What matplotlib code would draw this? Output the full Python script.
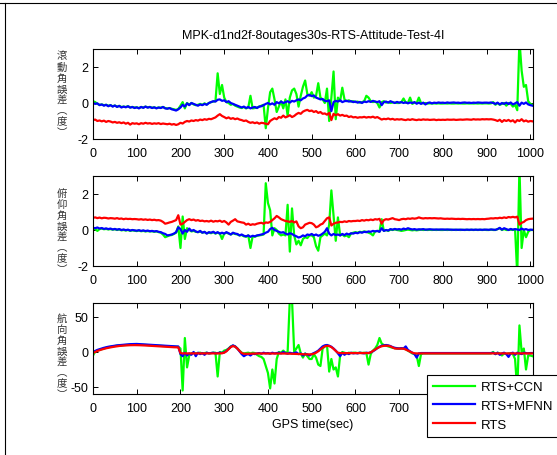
import numpy as np
import matplotlib
matplotlib.use("Agg")
import matplotlib.pyplot as plt
from matplotlib.lines import Line2D

plt.rcParams["font.family"] = ["Liberation Sans", "DejaVu Sans"]
plt.rcParams["axes.unicode_minus"] = False

# Sampling times (s), one value every 5 s
t = np.arange(0, 1006, 5)

series_names = ["RTS+CCN", "RTS+MFNN", "RTS"]
series_colors = ["#00ff00", "#0000ff", "#ff0000"]
xticks = [0, 100, 200, 300, 400, 500, 600, 700, 800, 900, 1000]
title_text = "MPK-d1nd2f-8outages30s-RTS-Attitude-Test-4I"
xlabel_text = "GPS time(sec)"
ylabels = ["滾動角誤差︵度︶", "俯仰角誤差︵度︶", "航向角誤差︵度︶"]

# ---- roll error (deg) ----
roll_ccn = [
    0.1, 0.05, -0.05, -0.1, -0.08, -0.12, -0.1, -0.15, -0.12, -0.18, -0.14, -0.2, -0.16, -0.22, -0.2, -0.22, -0.18, -0.24, -0.22, -0.25,
    -0.24, -0.28, -0.22, -0.25, -0.2, -0.24, -0.22, -0.26, -0.24, -0.28, -0.25, -0.26, -0.22, -0.28, -0.3, -0.28, -0.32, -0.35, -0.38, -0.33,
    -0.15, 0.05, -0.3, 0.0, -0.1, 0.0, -0.08, -0.12, -0.1, -0.05, -0.1, -0.02, -0.08, 0.0, 0.05, 0.08, 0.1, 1.65, 0.5, 1.0,
    0.3, 0.05, 0.0, -0.1, -0.05, -0.15, -0.2, -0.25, -0.28, -0.22, -0.3, -0.25, 0.4, -0.3, -0.28, -0.25, -0.2, -0.15, -0.1, -1.4,
    -0.3, 0.6, 0.8, 0.2, -0.5, -0.2, 0.1, -0.3, 0.2, -0.7, 0.3, 0.7, 0.8, 0.5, -0.2, 0.4, 0.9, 1.25, 0.5, 0.4,
    0.6, 0.3, 0.4, 1.1, 0.3, 0.2, 0.0, 0.8, -1.0, 0.3, 1.75, -0.9, 0.3, 0.1, 0.85, 0.2, 0.1, 0.15, 0.08, 0.1,
    0.05, 0.08, 0.02, 0.05, 0.1, 0.4, 0.3, 0.1, 0.05, 0.08, 0.0, -0.25, 0.05, 0.1, 0.02, 0.05, 0.0, 0.03, 0.02, 0.0,
    0.0, 0.05, 0.25, 0.02, 0.0, 0.3, -0.05, 0.02, 0.0, 0.3, 0.0, -0.02, 0.0, -0.03, -0.02, -0.03, -0.02, -0.03, -0.02, -0.03,
    -0.03, -0.02, -0.03, -0.02, -0.03, -0.03, -0.02, -0.03, -0.02, -0.03, -0.03, -0.02, -0.03, -0.02, -0.03, -0.02, -0.03, -0.02, -0.03, -0.02,
    -0.02, -0.03, -0.02, 0.05, -0.1, 0.0, -0.1, -0.05, 0.0, -0.15, 0.0, -0.05, -0.2, -0.1, -0.4, 3.5, 1.8, 0.9, 1.0, 0.1,
    -0.05, -0.1,
]
roll_mfnn = [
    0.0, -0.05, -0.02, -0.12, -0.08, -0.15, -0.1, -0.18, -0.12, -0.2, -0.14, -0.22, -0.16, -0.25, -0.2, -0.24, -0.18, -0.26, -0.22, -0.28,
    -0.24, -0.3, -0.22, -0.27, -0.2, -0.26, -0.22, -0.28, -0.24, -0.3, -0.25, -0.28, -0.22, -0.3, -0.32, -0.28, -0.35, -0.38, -0.42, -0.35,
    -0.25, -0.1, -0.2, -0.02, -0.12, 0.0, -0.05, -0.1, -0.15, -0.08, -0.12, -0.05, -0.1, 0.0, 0.05, 0.1, 0.08, 0.18, 0.2, 0.12,
    0.15, 0.05, 0.1, 0.0, -0.05, -0.1, -0.15, -0.2, -0.25, -0.2, -0.28, -0.22, -0.3, -0.25, -0.22, -0.28, -0.2, -0.18, -0.12, -0.05,
    0.0, -0.08, -0.02, -0.1, 0.05, -0.02, 0.08, 0.0, 0.05, 0.1, 0.02, 0.12, 0.08, 0.15, 0.2, 0.15, 0.25, 0.3, 0.42, 0.45,
    0.38, 0.42, 0.3, 0.25, 0.2, 0.22, 0.12, 0.1, 0.15, -0.45, 0.05, 0.12, 0.08, 0.15, 0.05, 0.1, 0.12, 0.08, 0.1, 0.05,
    0.08, 0.02, 0.06, 0.0, 0.08, 0.05, 0.1, 0.06, 0.12, 0.08, 0.05, 0.1, -0.12, 0.05, 0.08, 0.02, 0.1, 0.05, 0.0, 0.06,
    0.02, 0.05, 0.0, 0.04, -0.02, 0.03, 0.0, 0.05, -0.04, 0.02, -0.05, 0.02, -0.08, 0.0, 0.03, -0.02, 0.02, 0.0, 0.03, 0.01,
    0.02, 0.0, 0.03, 0.01, 0.02, 0.03, 0.01, 0.02, 0.0, 0.02, 0.03, 0.01, 0.02, 0.0, 0.02, 0.01, 0.03, 0.02, 0.01, 0.02,
    0.02, 0.01, 0.03, 0.0, -0.05, 0.02, -0.08, 0.0, -0.05, 0.02, -0.06, 0.03, -0.08, -0.02, 0.05, -0.15, 0.02, -0.05, 0.03, -0.08,
    -0.12, -0.15,
]
roll_rts = [
    -0.95, -0.92, -1.0, -0.97, -1.02, -0.98, -1.05, -1.0, -1.03, -1.08, -1.05, -1.1, -1.07, -1.12, -1.08, -1.15, -1.1, -1.2, -1.12, -1.15,
    -1.13, -1.18, -1.12, -1.15, -1.1, -1.14, -1.12, -1.16, -1.13, -1.15, -1.12, -1.17, -1.14, -1.16, -1.18, -1.15, -1.2, -1.17, -1.22, -1.18,
    -1.1, -1.14, -1.05, -1.0, -1.03, -0.97, -1.0, -0.95, -0.98, -0.92, -0.95, -0.9, -0.93, -0.88, -0.9, -0.85, -0.8, -0.7, -0.62, -0.72,
    -0.78, -0.85, -0.8, -0.88, -0.84, -0.9, -0.86, -0.92, -0.95, -1.0, -0.97, -1.05, -1.1, -1.07, -1.12, -1.08, -1.15, -1.1, -1.12, -1.15,
    -1.18, -1.0, -0.92, -0.85, -0.9, -0.78, -0.82, -0.7, -0.8, -0.75, -0.68, -0.78, -0.72, -0.62, -0.55, -0.6, -0.48, -0.42, -0.38, -0.45,
    -0.42, -0.5, -0.45, -0.55, -0.5, -0.6, -0.58, -0.65, -0.55, -0.95, -0.6, -0.68, -0.62, -0.7, -0.66, -0.72, -0.7, -0.78, -0.74, -0.8,
    -0.78, -0.82, -0.79, -0.8, -0.77, -0.81, -0.78, -0.8, -0.76, -0.82, -0.78, -0.85, -0.92, -0.88, -0.9, -0.86, -0.91, -0.88, -0.93, -0.9,
    -0.92, -0.9, -0.93, -0.95, -0.91, -0.94, -0.9, -0.93, -0.95, -0.92, -0.94, -0.91, -0.93, -0.92, -0.94, -0.93, -0.92, -0.95, -0.93, -0.94,
    -0.93, -0.94, -0.92, -0.93, -0.93, -0.92, -0.94, -0.93, -0.92, -0.93, -0.92, -0.91, -0.92, -0.93, -0.9, -0.92, -0.91, -0.92, -0.9, -0.91,
    -0.9, -0.91, -0.9, -0.92, -0.95, -1.0, -0.93, -1.05, -0.95, -1.0, -0.94, -1.02, -0.96, -1.08, -0.95, -1.0, -0.9, -1.02, -0.97, -1.04,
    -1.0, -1.02,
]

# ---- pitch error (deg) ----
pitch_ccn = [
    0.1, 0.05, -0.05, 0.05, 0.08, 0.04, 0.06, 0.03, 0.05, 0.02, 0.04, 0.0, 0.03, -0.02, 0.0, -0.03, 0.0, -0.05, -0.02, -0.04,
    -0.06, -0.03, -0.07, -0.05, -0.08, -0.06, -0.08, -0.07, -0.1, -0.08, -0.12, -0.15, -0.25, -0.4, -0.35, -0.3, -0.28, -0.22, -0.15, 0.2,
    -1.0, 0.75, -0.5, 0.1, 0.0, -0.08, -0.05, -0.1, -0.12, -0.08, -0.15, -0.12, -0.18, -0.15, -0.18, -0.12, -0.2, -0.15, -0.2, -0.5,
    -0.2, -0.15, -0.2, -0.25, -0.18, -0.22, -0.25, -0.3, -0.28, -0.35, -0.38, -0.3, -1.0, -0.35, -0.38, -0.32, -0.3, -0.28, -0.25, 2.6,
    1.5, 1.1, -0.3, 0.1, 0.0, -0.2, -0.3, -0.25, -0.3, 1.4, -1.2, 1.2, -0.3, -0.8, -0.6, -0.85, -0.5, -0.4, -0.45, -0.3,
    -0.3, -0.4, -0.9, -1.15, -0.4, -0.3, -0.2, -0.3, 0.3, 2.2, 0.8, -0.6, 0.7, -0.3, -0.25, -0.35, -0.3, -0.4, -0.2, -0.15,
    -0.12, -0.15, -0.1, -0.12, -0.08, -0.1, -0.15, -0.2, -0.3, -0.08, -0.05, -0.1, 0.6, -0.05, 0.0, -0.05, 0.02, 0.0, 0.03, 0.0,
    -0.02, -0.05, -0.03, 0.0, 0.02, 0.0, -0.02, 0.0, -0.02, 0.0, 0.02, 0.0, 0.01, 0.0, 0.01, 0.0, 0.01, 0.0, 0.01, 0.0,
    0.0, 0.01, 0.0, 0.01, 0.0, 0.01, 0.0, 0.01, 0.0, 0.01, 0.0, 0.01, 0.0, 0.01, 0.0, 0.01, 0.0, 0.01, 0.0, 0.01,
    0.0, 0.0, 0.02, 0.0, 0.0, 0.05, 0.1, 0.0, 0.05, 0.0, 0.0, 0.02, 0.0, 0.05, -2.5, 3.5, -1.0, 0.0, -0.4, -0.1,
    0.0, 0.0,
]
pitch_mfnn = [
    0.12, 0.1, 0.14, 0.08, 0.11, 0.06, 0.09, 0.05, 0.08, 0.03, 0.06, 0.02, 0.05, 0.0, 0.03, -0.01, 0.02, -0.03, 0.0, -0.02,
    -0.04, -0.01, -0.05, -0.02, -0.06, -0.03, -0.07, -0.05, -0.08, -0.06, -0.1, -0.12, -0.18, -0.22, -0.3, -0.28, -0.25, -0.2, -0.12, 0.15,
    0.05, -0.2, 0.0, -0.1, 0.08, -0.05, 0.0, -0.08, -0.12, -0.05, -0.15, -0.1, -0.2, -0.12, -0.15, -0.1, -0.18, -0.12, -0.2, -0.15,
    -0.2, -0.12, -0.18, -0.25, -0.15, -0.2, -0.22, -0.3, -0.25, -0.32, -0.35, -0.3, -0.38, -0.32, -0.35, -0.3, -0.28, -0.25, -0.22, -0.15,
    -0.1, 0.05, 0.12, 0.0, -0.05, -0.1, -0.15, -0.12, -0.2, -0.25, -0.18, -0.22, -0.3, -0.35, -0.42, -0.38, -0.3, -0.35, -0.25, -0.28,
    -0.22, -0.3, -0.25, -0.32, -0.28, -0.2, -0.1, 0.1, -0.2, -0.3, -0.22, -0.28, -0.25, -0.3, -0.22, -0.28, -0.2, -0.25, -0.18, -0.2,
    -0.15, -0.18, -0.12, -0.15, -0.1, -0.12, -0.08, -0.1, -0.05, -0.08, -0.05, -0.1, 0.1, -0.05, 0.0, -0.03, 0.05, 0.02, 0.06, 0.03,
    0.05, 0.02, 0.08, 0.04, 0.1, 0.06, 0.03, 0.05, 0.02, 0.04, 0.03, 0.05, 0.02, 0.03, 0.04, 0.03, 0.02, 0.03, 0.02, 0.03,
    0.03, 0.02, 0.03, 0.02, 0.02, 0.01, 0.02, 0.01, 0.02, 0.01, 0.01, 0.02, 0.01, 0.02, 0.01, 0.02, 0.01, 0.02, 0.01, 0.02,
    0.02, 0.01, 0.03, 0.02, 0.01, 0.05, 0.12, 0.02, 0.1, 0.05, 0.0, 0.06, 0.02, 0.05, 0.03, 0.0, 0.08, 0.02, 0.05, 0.0,
    0.02, 0.01,
]
pitch_rts = [
    0.68, 0.7, 0.66, 0.69, 0.65, 0.68, 0.67, 0.64, 0.66, 0.65, 0.63, 0.66, 0.62, 0.64, 0.6, 0.63, 0.61, 0.62, 0.6, 0.61,
    0.6, 0.58, 0.6, 0.57, 0.59, 0.56, 0.58, 0.55, 0.57, 0.54, 0.55, 0.52, 0.45, 0.35, 0.38, 0.42, 0.45, 0.5, 0.55, 0.82,
    0.3, 0.35, 0.45, 0.55, 0.6, 0.55, 0.58, 0.52, 0.55, 0.5, 0.52, 0.48, 0.5, 0.47, 0.52, 0.46, 0.5, 0.48, 0.52, 0.45,
    0.5, 0.42, 0.3, 0.45, 0.52, 0.6, 0.48, 0.45, 0.42, 0.4, 0.3, 0.35, 0.28, 0.32, 0.3, 0.35, 0.38, 0.4, 0.35, 0.42,
    0.4, 0.45, 0.55, 0.65, 0.78, 0.7, 0.6, 0.55, 0.5, 0.48, 0.45, 0.5, 0.42, 0.48, 0.2, 0.1, 0.15, 0.3, 0.35, 0.4,
    0.38, 0.3, 0.15, 0.2, 0.3, 0.35, 0.5, 0.65, 0.7, 0.25, 0.35, 0.4, 0.42, 0.45, 0.44, 0.48, 0.45, 0.5, 0.48, 0.5,
    0.5, 0.52, 0.5, 0.55, 0.52, 0.56, 0.54, 0.58, 0.55, 0.6, 0.58, 0.62, 0.35, 0.55, 0.6, 0.58, 0.62, 0.66, 0.6, 0.58,
    0.55, 0.6, 0.62, 0.6, 0.64, 0.62, 0.65, 0.63, 0.65, 0.7, 0.66, 0.64, 0.66, 0.65, 0.66, 0.65, 0.66, 0.65, 0.64, 0.65,
    0.63, 0.62, 0.63, 0.62, 0.63, 0.62, 0.61, 0.62, 0.61, 0.62, 0.61, 0.6, 0.61, 0.6, 0.61, 0.6, 0.61, 0.6, 0.61, 0.6,
    0.62, 0.63, 0.65, 0.64, 0.66, 0.65, 0.68, 0.66, 0.7, 0.67, 0.72, 0.7, 0.73, 0.7, 0.74, 0.3, 0.4, 0.45, 0.55, 0.6,
    0.62, 0.63,
]

# ---- heading error (deg) ----
heading_ccn = [
    -5.0, 0.5, 2.0, 3.0, 4.0, 5.0, 6.0, 6.8, 7.4, 8.0, 8.5, 9.0, 9.3, 9.6, 9.8, 10.0, 10.2, 10.4, 10.5, 10.6,
    10.6, 10.5, 10.4, 10.3, 10.1, 9.9, 9.7, 9.5, 9.3, 9.1, 8.9, 8.7, 8.5, 8.3, 8.1, 7.9, 7.7, 7.5, 7.3, 7.2,
    5.0, -55.0, 20.0, -22.0, -5.0, -2.0, -1.0, -2.0, -1.5, -1.0, -2.0, -1.5, -1.0, -2.0, -1.5, -1.0, -1.0, -35.0, 0.0, -1.0,
    2.0, 3.0, 5.0, 8.0, 9.0, 8.0, 5.0, 2.0, -1.0, -2.0, -1.5, -1.0, -2.0, -1.0, -1.5, -4.0, -6.0, -7.0, -10.0, -20.0,
    -30.0, -52.0, -25.0, -45.0, -10.0, 0.0, -1.0, 2.0, -1.0, 0.0, 75.0, 75.0, 0.0, 5.0, 10.0, -2.0, -8.0, -2.0, -6.0, -10.0,
    -10.0, -3.0, -8.0, -18.0, -20.0, 5.0, 8.0, 10.0, -28.0, -10.0, -25.0, -22.0, -35.0, -5.0, 0.0, -1.0, -2.0, -1.0, -1.5, -1.0,
    -1.0, -1.5, -1.0, -1.5, -1.0, -1.5, -18.0, -3.0, 2.0, 5.0, 10.0, 20.0, 12.0, 10.0, 9.0, 8.0, 7.0, 6.0, 5.5, 5.0,
    5.0, 5.0, 5.0, 4.0, 2.0, 0.0, -2.0, -3.0, -5.0, -20.0, -3.0, -2.0, -2.0, -2.0, -2.0, -2.0, -2.0, -2.0, -2.0, -2.0,
    -2.0, -2.0, -2.0, -2.0, -2.0, -2.0, -2.0, -2.0, -2.0, -2.0, -2.0, -2.0, -2.0, -2.0, -2.0, -2.0, -2.0, -2.0, -2.0, -2.0,
    -2.0, -2.0, -2.0, 0.0, -3.0, -1.0, -2.0, -5.0, -2.0, -3.0, -2.0, -2.0, -3.0, -10.0, -55.0, 38.0, 0.0, 5.0, -25.0, -5.0,
    -5.0, -6.0,
]
heading_mfnn = [
    0.0, 1.5, 3.0, 4.0, 5.0, 6.0, 6.8, 7.5, 8.0, 8.6, 9.0, 9.5, 9.8, 10.2, 10.5, 10.8, 11.0, 11.2, 11.3, 11.4,
    11.5, 11.3, 11.2, 11.0, 10.8, 10.6, 10.4, 10.2, 10.0, 9.8, 9.6, 9.4, 9.2, 9.0, 8.8, 8.6, 8.4, 8.2, 8.0, 7.9,
    -3.0, -6.0, -1.0, -5.0, -2.0, -4.0, 0.0, -6.0, -1.0, -3.0, -1.5, -4.0, -1.0, -2.0, -1.5, -1.0, -2.0, -1.5, -1.0, -1.5,
    -0.5, 1.5, 4.5, 7.5, 9.5, 8.0, 5.0, 1.0, -3.0, -6.0, -4.0, -3.0, -5.0, -2.5, -3.0, -2.0, -1.5, -2.5, -1.0, -2.0,
    -1.5, -2.5, -1.0, -2.0, -1.5, -1.0, -2.0, 0.0, -1.5, -2.5, -1.0, -2.0, -1.5, -0.5, -3.0, -2.0, -5.0, -2.5, -3.5, -5.0,
    -3.0, -1.5, 0.0, 2.0, 5.0, 8.0, 9.5, 10.0, 9.0, 7.5, 5.0, 2.0, -2.0, -6.0, -1.0, -4.0, -1.5, -3.0, -1.0, -2.0,
    -1.5, -2.0, -1.0, -1.5, -2.0, -1.0, -1.5, -0.5, 1.0, 3.0, 5.5, 7.5, 9.0, 9.5, 10.0, 9.5, 8.5, 7.0, 6.0, 5.5,
    5.0, 5.5, 5.0, 8.0, 3.0, 1.0, -1.0, -3.0, -8.0, -2.0, -1.5, -1.5, -1.5, -1.5, -1.5, -1.5, -1.5, -1.5, -1.5, -1.5,
    -1.5, -1.5, -1.5, -1.5, -1.5, -1.5, -1.5, -1.5, -1.5, -1.5, -1.5, -1.5, -1.5, -1.5, -1.5, -1.5, -1.5, -1.5, -1.5, -1.5,
    -1.5, -1.5, -1.5, -1.0, -3.0, -1.0, -4.0, -2.0, -1.0, -3.0, -7.0, -2.0, -1.0, -4.0, -1.0, -2.0, -3.0, -1.0, -1.5, -2.0,
    -1.5, -1.5,
]
heading_rts = [
    -1.5, 0.0, 1.5, 2.6, 3.6, 4.5, 5.3, 6.0, 6.6, 7.2, 7.7, 8.2, 8.6, 8.9, 9.2, 9.4, 9.6, 9.7, 9.8, 9.8,
    9.8, 9.7, 9.6, 9.5, 9.3, 9.1, 8.9, 8.7, 8.5, 8.3, 8.1, 7.9, 7.7, 7.5, 7.3, 7.1, 6.9, 6.8, 6.7, 6.6,
    -1.5, -2.0, -2.0, -2.1, -2.1, -2.0, -2.0, -2.1, -2.1, -2.0, -2.0, -2.1, -2.1, -2.0, -2.0, -2.1, -2.1, -2.0, -2.0, -1.8,
    -1.0, 1.0, 4.0, 7.0, 8.5, 7.5, 5.0, 1.5, -1.5, -2.5, -2.6, -2.5, -2.4, -2.3, -2.2, -2.2, -2.1, -2.1, -2.0, -2.0,
    -2.0, -2.0, -2.0, -2.1, -2.1, -2.1, -2.2, -2.2, -2.2, -2.3, -2.3, -2.4, -2.5, -2.6, -2.8, -3.0, -3.2, -3.3, -3.4, -3.4,
    -3.2, -2.5, -1.0, 1.0, 3.5, 6.0, 8.0, 8.8, 8.5, 7.0, 4.5, 1.5, -1.0, -1.5, -1.6, -1.6, -1.6, -1.6, -1.6, -1.6,
    -1.6, -1.6, -1.6, -1.6, -1.6, -1.6, -1.5, -0.5, 1.5, 3.5, 5.5, 7.0, 8.2, 8.8, 9.0, 8.8, 8.0, 6.5, 5.0, 4.8,
    4.8, 4.8, 4.8, 3.5, 2.0, 0.5, -1.0, -1.8, -2.0, -2.0, -2.0, -2.0, -2.0, -2.0, -2.0, -2.0, -2.0, -2.0, -2.0, -2.0,
    -2.0, -2.0, -2.0, -2.0, -2.0, -2.0, -2.0, -2.0, -2.0, -2.0, -2.0, -2.0, -2.0, -2.0, -2.0, -2.0, -2.0, -2.0, -2.0, -2.0,
    -2.0, -2.0, -2.0, -2.0, -2.0, -2.0, -2.0, -2.0, -2.0, -2.0, -2.0, -2.0, -2.0, -2.0, -2.0, -2.0, -2.0, -2.0, -2.0, -2.0,
    -2.0, -2.0,
]

panels = [
    ([roll_ccn, roll_mfnn, roll_rts], (-2, 3), [-2, 0, 2]),
    ([pitch_ccn, pitch_mfnn, pitch_rts], (-2, 3), [-2, 0, 2]),
    ([heading_ccn, heading_mfnn, heading_rts], (-60, 70), [-50, 0, 50]),
]

W, H = 557, 456
fig = plt.figure(figsize=(W / 100, H / 100), dpi=100)

# axes boxes in pixels: (left, top, right, bottom)
boxes = [(93, 50, 533, 140), (93, 177, 533, 267), (93, 304, 533, 395)]
label_centers = [95, 232, 357]

axes = []
for (series, ylim, yticks), (l, tp, r, b), yc, ylab in zip(panels, boxes, label_centers, ylabels):
    ax = fig.add_axes([l / W, 1 - b / H, (r - l) / W, (b - tp) / H])
    for vals, col, name in zip(series, series_colors, series_names):
        ax.plot(t, vals, color=col, lw=1.6, label=name)
    ax.set_xlim(0, 1006)
    ax.set_ylim(*ylim)
    ax.set_xticks(xticks)
    ax.set_yticks(yticks)
    ax.tick_params(direction="in", length=3.5, width=0.7, top=True, right=True,
                   labelsize=9)
    ax.tick_params(axis="x", pad=6)
    ax.tick_params(axis="y", pad=3.5)
    for sp in ax.spines.values():
        sp.set_linewidth(0.8)
    # stacked vertical label
    fig.text(62 / W, 1 - yc / H, "\n".join(ylab), ha="center", va="center",
             fontsize=7.5, color="#333333", linespacing=1.12,
             family=["Noto Sans CJK TC", "DejaVu Sans"])
    axes.append(ax)

axes[0].set_title(title_text, fontsize=9, pad=8)
axes[2].set_xlabel(xlabel_text, fontsize=9, labelpad=3)

# the legend box sits over the last tick labels of the bottom panel
for lab in axes[2].get_xticklabels()[8:]:
    lab.set_visible(False)

leg = axes[2].legend(loc="upper left", bbox_to_anchor=(427 / W, 1 - 376 / H),
                     bbox_transform=fig.transFigure, borderaxespad=0, fancybox=False,
                     edgecolor="black", framealpha=1, fontsize=9.5, handlelength=3.2,
                     handletextpad=0.4, labelspacing=0.5, borderpad=0.45)
leg.get_frame().set_linewidth(0.8)

# window frame lines along the top and left edges
fig.add_artist(Line2D([0, 1], [1 - 4 / H, 1 - 4 / H], transform=fig.transFigure,
                      color="black", lw=0.8))
fig.add_artist(Line2D([5 / W, 5 / W], [0, 1 - 4 / H], transform=fig.transFigure,
                      color="black", lw=0.8))

fig.savefig("out.png", dpi=100)
